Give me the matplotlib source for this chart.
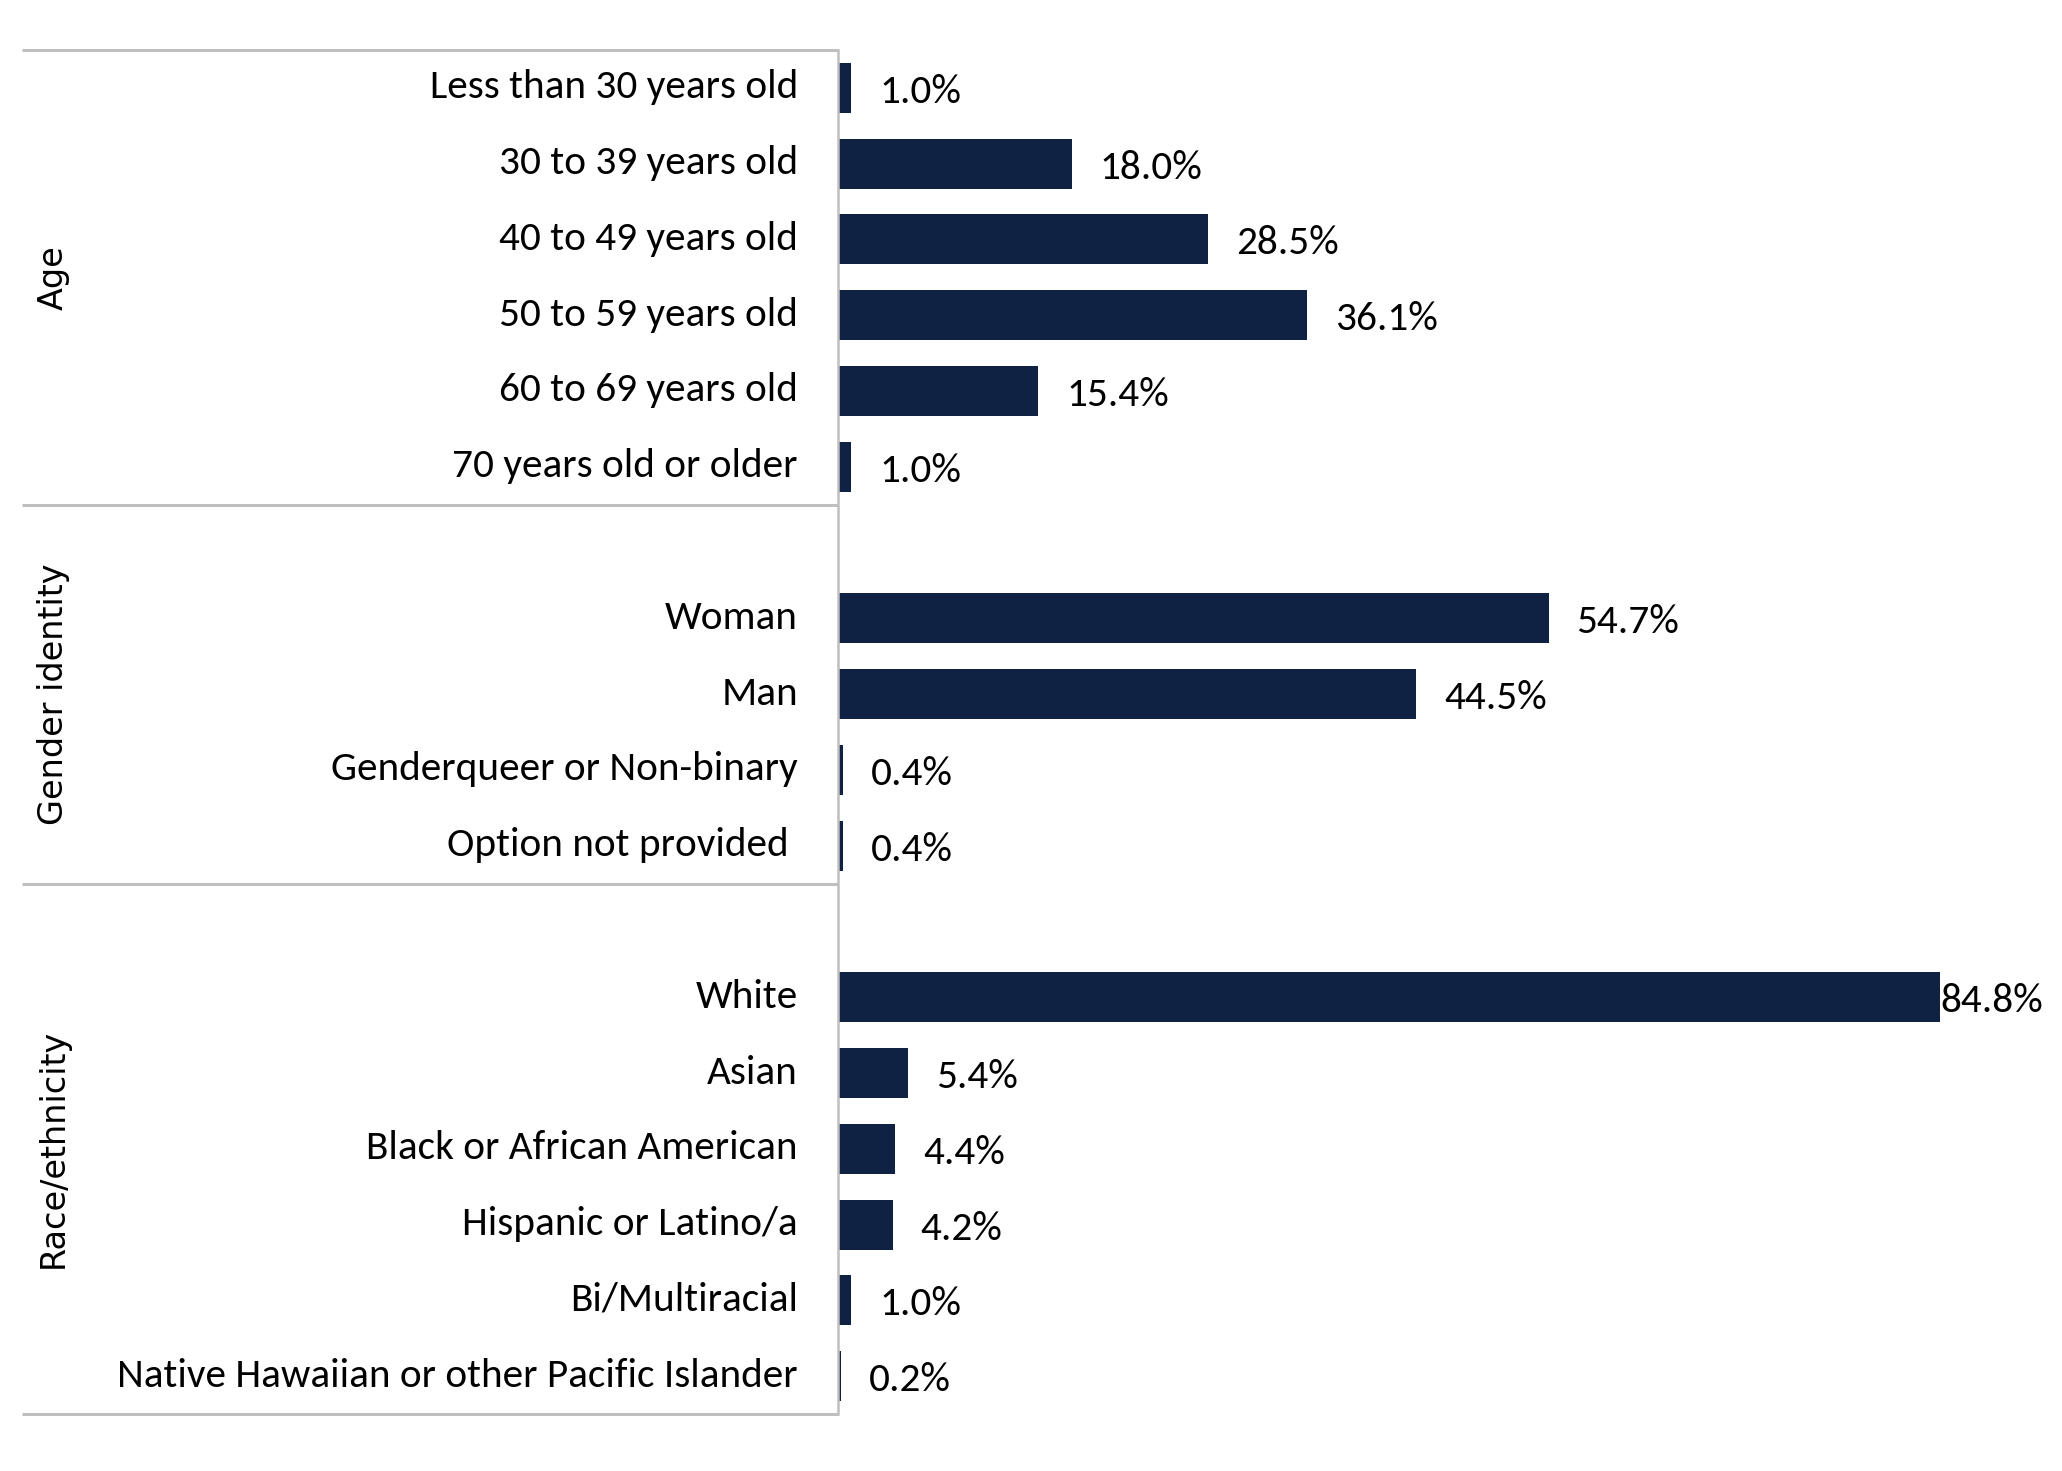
import matplotlib
matplotlib.use("Agg")
import matplotlib.pyplot as plt
from matplotlib import font_manager
from matplotlib.transforms import blended_transform_factory, ScaledTranslation

# ---- data ----
age_labels = ["Less than 30 years old", "30 to 39 years old", "40 to 49 years old",
              "50 to 59 years old", "60 to 69 years old", "70 years old or older"]
age_values = [1.0, 18.0, 28.5, 36.1, 15.4, 1.0]

gender_labels = ["Woman", "Man", "Genderqueer or Non-binary", "Option not provided "]
gender_values = [54.7, 44.5, 0.4, 0.4]

race_labels = ["White", "Asian", "Black or African American", "Hispanic or Latino/a",
               "Bi/Multiracial", "Native Hawaiian or other Pacific Islander"]
race_values = [84.8, 5.4, 4.4, 4.2, 1.0, 0.2]

group_names = ["Age", "Gender identity", "Race/ethnicity"]

# ---- fonts ----
available = {f.name for f in font_manager.fontManager.ttflist}
narrow = None
for cand in ["Carlito", "Liberation Sans Narrow", "Roboto Condensed", "Open Sans Condensed", "Roboto"]:
    if cand in available:
        narrow = cand
        break
if narrow is None:
    narrow = "DejaVu Sans"

BAR_COLOR = "#0F2244"
LINE_COLOR = "#BFBFBF"

W, H, DPI = 2062, 1471, 100
fig = plt.figure(figsize=(W / DPI, H / DPI), dpi=DPI)

ax_left, ax_right = 838 / W, 2040 / W
ax_top, ax_bottom = 1 - 50 / H, 1 - 1414 / H
ax = fig.add_axes([ax_left, ax_bottom, ax_right - ax_left, ax_top - ax_bottom])

# build category layout: groups separated by one empty slot (belongs to next group)
groups = [(age_labels, age_values), (gender_labels, gender_values), (race_labels, race_values)]
positions, labels, values = [], [], []
group_spans = []
pos = 0
for gi, (labs, vals) in enumerate(groups):
    start = pos
    if gi > 0:
        pos += 1  # empty slot
    for l, v in zip(labs, vals):
        positions.append(pos)
        labels.append(l)
        values.append(v)
        pos += 1
    group_spans.append((start - 0.5, pos - 0.5))
n_slots = pos

ax.barh(positions, values, height=0.66, color=BAR_COLOR)
ax.set_ylim(n_slots - 0.5, -0.5)
xmax = (2040 - 838) / 12.99
ax.set_xlim(0, xmax)

# fit font size for category labels
probe = fig.text(0, 0, "Native Hawaiian or other Pacific Islander", family=narrow, fontsize=20)
fig.canvas.draw()
r = fig.canvas.get_renderer()
wpx = probe.get_window_extent(r).width
probe.remove()
lab_fs = 20 * 680 / wpx

probe = fig.text(0, 0, "Race/ethnicity", family="DejaVu Sans", fontsize=20)
fig.canvas.draw()
wpx = probe.get_window_extent(r).width
probe.remove()
grp_fs = 20 * 239 / wpx

ax.set_yticks(positions)
ax.set_yticklabels(labels, family=narrow, fontsize=lab_fs)
ax.tick_params(axis="y", length=0, pad=28.8)
shift_up = ScaledTranslation(0, 4 / DPI, fig.dpi_scale_trans)
for t in ax.get_yticklabels():
    t.set_transform(t.get_transform() + shift_up)
ax.set_xticks([])
for s in ["top", "right", "bottom"]:
    ax.spines[s].set_visible(False)
ax.spines["left"].set_color(LINE_COLOR)
ax.spines["left"].set_linewidth(1.8)

vmax = max(values)
for p, v in zip(positions, values):
    off = 1 if v == vmax else 28
    ax.annotate(f"{v:.1f}%", (v, p), xytext=(off, -4), textcoords="offset pixels",
                va="center", ha="left", family=narrow, fontsize=lab_fs, color="black")

# group separators and labels
tr = blended_transform_factory(fig.transFigure, ax.transData)
x0 = 22 / W
bounds = sorted({b for span in group_spans for b in span})
for b in bounds:
    ax.plot([x0, ax_left], [b, b], transform=tr, color=LINE_COLOR, lw=2.2,
            clip_on=False, solid_capstyle="butt")
for name, (a, b) in zip(group_names, group_spans):
    ax.text(53 / W, (a + b) / 2, name, transform=tr, rotation=90, ha="center", va="center",
            family="DejaVu Sans", fontsize=grp_fs, color="black")

fig.savefig("out.png", dpi=DPI)
